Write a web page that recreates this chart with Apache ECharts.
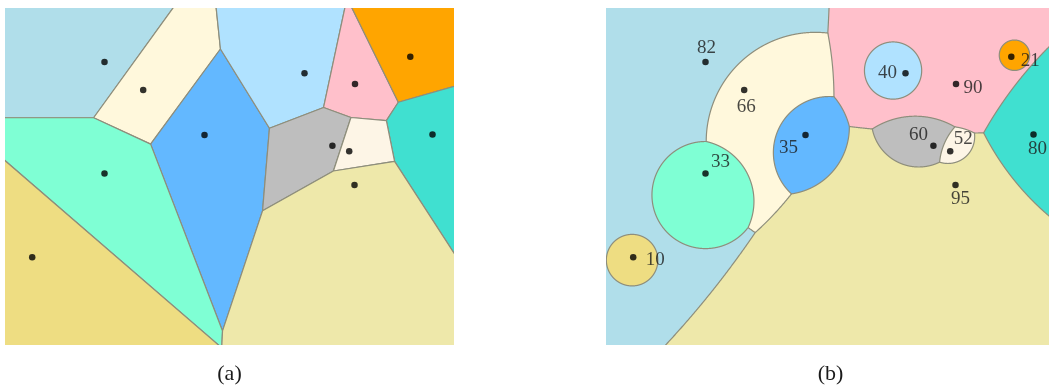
<!DOCTYPE html>
<html><head><meta charset="utf-8">
<script src="https://cdn.jsdelivr.net/npm/echarts@6/dist/echarts.min.js"></script>
<style>html,body{margin:0;padding:0;background:#fff}#c{width:1049px;height:388px}</style>
</head><body><div id="c"></div>
<script>
// Sites (shared by both panels), in frame units (x right, y down)
const siteX = [99.5, 138.2, 199.5, 99.5, 27.2, 299.5, 350, 405.3, 427.5, 327.4, 344.2, 349.5];
const siteY = [54, 82, 127, 165.5, 249.2, 65.2, 76, 48.8, 126.5, 137.7, 143.2, 177];
// Weights shown in panel (b)
const weights = [82, 66, 35, 33, 10, 40, 90, 21, 80, 60, 52, 95];
const captions = ['(a)', '(b)'];

// ---- styles (not data) ----
const cellColors = ['#B0DEEA', '#FFF8DC', '#63B8FF', '#7FFFD4', '#EEDD82', '#B0E2FF',
                    '#FFC0CB', '#FFA500', '#40E0D0', '#BEBEBE', '#FDF5E6', '#EEE8AA'];
const labelOffsets = [[1,-14],[2,17],[-17,13],[15,-11],[22,3],[-18,0],[17,4],[19,4],[4,15],[-15,-11],[13,-12],[5,14]];
const edgeColor = '#8E8E7C';
const FW = 449, FH = 337;

const n = siteX.length;
// Panel (a): ordinary Voronoi cells by half-plane clipping
function clipHalf(poly, ax, ay, c) { // keep ax*x+ay*y <= c
  const out = [];
  for (let i = 0; i < poly.length; i++) {
    const P = poly[i], Q = poly[(i + 1) % poly.length];
    const fp = ax * P[0] + ay * P[1] - c, fq = ax * Q[0] + ay * Q[1] - c;
    if (fp <= 0) out.push(P);
    if ((fp < 0 && fq > 0) || (fp > 0 && fq < 0)) {
      const t = fp / (fp - fq);
      out.push([P[0] + t * (Q[0] - P[0]), P[1] + t * (Q[1] - P[1])]);
    }
  }
  return out;
}
const cellsA = [];
for (let i = 0; i < n; i++) {
  let poly = [[-1000, -1000], [FW + 1000, -1000], [FW + 1000, FH + 1000], [-1000, FH + 1000]];
  for (let j = 0; j < n; j++) {
    if (j === i) continue;
    const ax = 2 * (siteX[j] - siteX[i]), ay = 2 * (siteY[j] - siteY[i]);
    const c = siteX[j] ** 2 + siteY[j] ** 2 - siteX[i] ** 2 - siteY[i] ** 2;
    poly = clipHalf(poly, ax, ay, c);
  }
  cellsA.push({ site: i, pts: poly });
}
// Panel (b): multiplicatively weighted Voronoi, painted heaviest first
const orderB = [...Array(n).keys()].sort((a, b) => weights[b] - weights[a]);
const cellsB = [];
const NS = 2880;
for (const k of orderB) {
  const pts = [];
  const wk = weights[k];
  for (let s = 0; s < NS; s++) {
    const th = 2 * Math.PI * s / NS, ux = Math.cos(th), uy = Math.sin(th);
    let t = 3000;
    for (let j = 0; j < n; j++) {
      if (j === k || weights[j] < wk) continue;
      const wj = weights[j];
      const dx = siteX[k] - siteX[j], dy = siteY[k] - siteY[j];
      const a = wj * wj - wk * wk, b = -2 * wk * wk * (dx * ux + dy * uy), c = -wk * wk * (dx * dx + dy * dy);
      if (a > 1e-9) {
        const r = (-b + Math.sqrt(b * b - 4 * a * c)) / (2 * a);
        t = Math.min(t, r);
      } else if (b > 0) t = Math.min(t, -c / b);
    }
    pts.push([siteX[k] + t * ux, siteY[k] + t * uy]);
  }
  cellsB.push({ site: k, pts });
}

function cellSeries(axisIdx, cells) {
  return {
    type: 'custom', xAxisIndex: axisIdx, yAxisIndex: axisIdx, clip: true, silent: true, z: 1,
    data: cells.map(c => [siteX[c.site], siteY[c.site]]),
    encode: { x: 0, y: 1 },
    renderItem: function (params, api) {
      const c = cells[params.dataIndex];
      return {
        type: 'polygon',
        shape: { points: c.pts.map(p => api.coord(p)) },
        style: { fill: cellColors[c.site], stroke: edgeColor, lineWidth: 1.2, lineJoin: 'round' }
      };
    }
  };
}

const chart = echarts.init(document.getElementById('c'), null, { renderer: 'canvas' });
const axisCommon = { type: 'value', show: false, min: 0 };
chart.setOption({
  animation: false,
  grid: [
    { left: 5, top: 8, width: FW, height: FH, outerBoundsMode: 'none', containLabel: false },
    { left: 606, top: 8, right: -6, height: FH, outerBoundsMode: 'none', containLabel: false }
  ],
  xAxis: [
    Object.assign({ gridIndex: 0, max: FW }, axisCommon),
    Object.assign({ gridIndex: 1, max: FW }, axisCommon)
  ],
  yAxis: [
    Object.assign({ gridIndex: 0, max: FH, inverse: true }, axisCommon),
    Object.assign({ gridIndex: 1, max: FH, inverse: true }, axisCommon)
  ],
  series: [
    cellSeries(0, cellsA),
    cellSeries(1, cellsB),
    {
      type: 'scatter', xAxisIndex: 0, yAxisIndex: 0, z: 5, symbolSize: 6.5, silent: true,
      itemStyle: { color: '#000' },
      data: siteX.map((x, i) => [x, siteY[i]])
    },
    {
      type: 'scatter', xAxisIndex: 1, yAxisIndex: 1, z: 5, symbolSize: 6.5, silent: true,
      itemStyle: { color: '#000' },
      data: siteX.map((x, i) => ({
        value: [x, siteY[i], weights[i]],
        label: {
          show: true, position: 'inside', offset: labelOffsets[i],
          formatter: String(weights[i]), color: '#1a1a1a',
          fontFamily: 'Liberation Serif', fontSize: 19, align: 'center', verticalAlign: 'middle'
        }
      }))
    }
  ],
  graphic: captions.map((t, i) => ({
    type: 'text', x: i === 0 ? 229.5 : 830.5, y: 374,
    style: { text: t, fontFamily: 'Liberation Serif', fontSize: 22, fill: '#1a1a1a',
             textAlign: 'center', textVerticalAlign: 'middle' }
  }))
});
</script>
</body></html>
